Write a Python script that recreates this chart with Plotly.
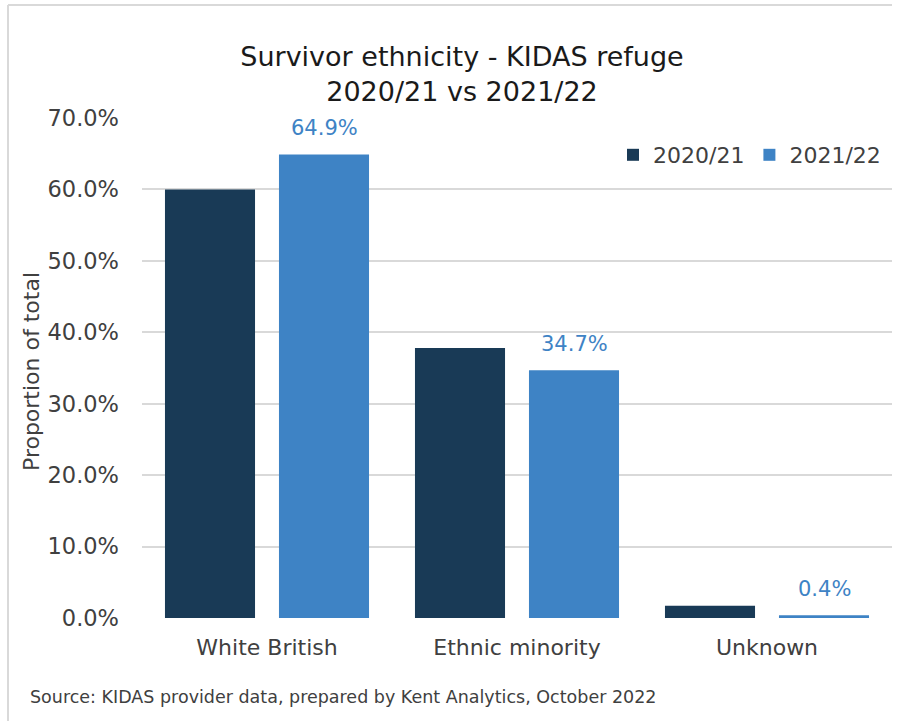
import plotly.graph_objects as go

# Survivor ethnicity, share of total by year
categories = ["White British", "Ethnic minority", "Unknown"]
series_names = ["2020/21", "2021/22"]
values_2020_21 = [0.600, 0.378, 0.017]
values_2021_22 = [0.649, 0.347, 0.004]
y_ticks = [0.0, 0.1, 0.2, 0.3, 0.4, 0.5, 0.6, 0.7]

DARK = "#193A56"
LIGHT = "#3E83C5"
FONT = "DejaVu Sans"

W, H = 901, 721
ML, MR, MT, MB = 142, 9, 118, 103
PW, PH = W - ML - MR, H - MT - MB


def px_x(px):
    return (px - ML) / PW


def px_y(py):
    return (H - MB - py) / PH


fig = go.Figure()
fig.add_trace(go.Bar(name=series_names[0], x=categories, y=values_2020_21,
                     marker=dict(color=DARK, line=dict(width=0))))
fig.add_trace(go.Bar(name=series_names[1], x=categories, y=values_2021_22,
                     marker=dict(color=LIGHT, line=dict(width=0))))

annotations = []
# value labels above the 2021/22 bars
for cat, v in zip(categories, values_2021_22):
    annotations.append(dict(
        x=cat, y=v, xref="x", yref="y", xshift=57, yshift=12,
        text=f"{v * 100:.1f}%", showarrow=False, yanchor="bottom",
        font=dict(family=FONT, size=21, color=LIGHT)))

# y-axis title
annotations.append(dict(
    x=px_x(31), y=px_y(372), xref="paper", yref="paper",
    text="Proportion of total", textangle=-90, showarrow=False,
    xanchor="center", yanchor="middle",
    font=dict(family=FONT, size=22, color="#404040")))

# source note
annotations.append(dict(
    x=px_x(28), y=px_y(697), xref="paper", yref="paper",
    text="Source: KIDAS provider data, prepared by Kent Analytics, October 2022",
    showarrow=False, xanchor="left", yanchor="middle",
    font=dict(family=FONT, size=17.5, color="#404040")))

# chart frame: left and top edges
frame = dict(color="#D9D9D9", width=2)
shapes = [
    dict(type="line", xref="paper", yref="paper",
         x0=px_x(8), x1=px_x(8), y0=px_y(721), y1=px_y(5), line=frame, layer="below"),
    dict(type="line", xref="paper", yref="paper",
         x0=px_x(8), x1=px_x(892), y0=px_y(5), y1=px_y(5), line=frame, layer="below"),
]

fig.update_layout(
    width=W, height=H,
    margin=dict(l=ML, r=MR, t=MT, b=MB, autoexpand=False),
    paper_bgcolor="white", plot_bgcolor="white",
    barmode="group", bargap=0.088, bargroupgap=0.21,
    title=dict(
        text="Survivor ethnicity - KIDAS refuge<br>2020/21 vs 2021/22",
        x=462 / W, xref="container", xanchor="center",
        y=1 - 66 / H, yref="container", yanchor="middle",
        font=dict(family=FONT, size=27, color="#1a1a1a")),
    legend=dict(
        orientation="h", x=px_x(886), xanchor="right", y=px_y(155), yanchor="middle",
        font=dict(family=FONT, size=22, color="#404040"),
        bgcolor="rgba(0,0,0,0)", traceorder="normal"),
    xaxis=dict(
        type="category", showgrid=False, showline=False, zeroline=False,
        ticks="", ticklabelstandoff=14,
        tickfont=dict(family=FONT, size=22, color="#404040")),
    yaxis=dict(
        range=[0, 0.7], tickvals=y_ticks, tickformat=".1%",
        showgrid=True, gridcolor="#D9D9D9", gridwidth=1.6,
        zeroline=False, showline=False, ticks="", ticklabelstandoff=22,
        tickfont=dict(family=FONT, size=22.5, color="#404040")),
    annotations=annotations,
    shapes=shapes,
)

fig.write_html("out.html", config={"displayModeBar": False})
